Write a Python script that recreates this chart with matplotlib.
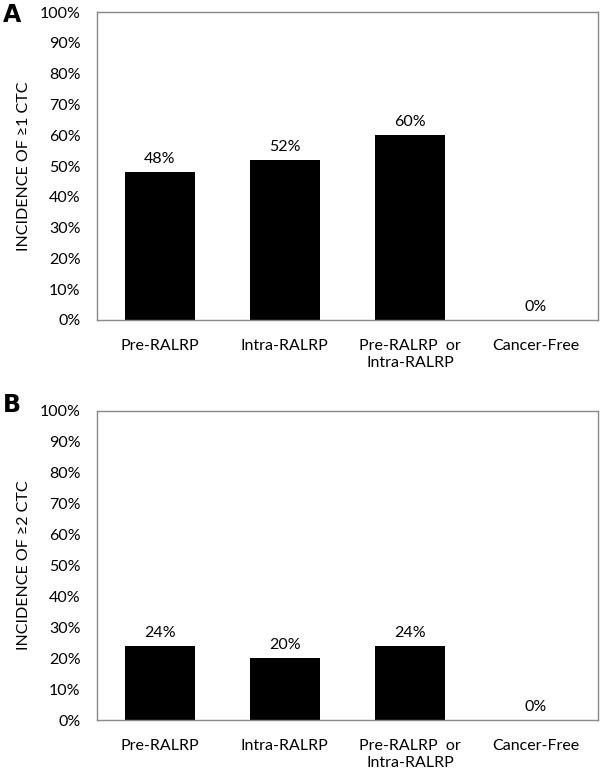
import numpy as np
import matplotlib.pyplot as plt
from matplotlib.ticker import PercentFormatter

categories = ["Pre-RALRP", "Intra-RALRP", "Pre-RALRP  or\nIntra-RALRP", "Cancer-Free"]
incidence_1ctc = [48, 52, 60, 0]
incidence_2ctc = [24, 20, 24, 0]
panel_letters = ["A", "B"]
ylabels = ["INCIDENCE OF \u22651 CTC", "INCIDENCE OF \u22652 CTC"]

plt.rcParams['font.family'] = ['Lato', 'DejaVu Sans']

fig = plt.figure(figsize=(6, 7.77), dpi=100)
W, H = 600, 777
# axes boxes in pixels: (left, top, right, bottom)
boxes = [(97, 12, 598, 320), (97, 411, 598, 720)]
letter_y = [15, 405]

x = np.arange(len(categories))
fs = 11.5
for box, vals, letter, ly, ylab in zip(boxes, [incidence_1ctc, incidence_2ctc], panel_letters, letter_y, ylabels):
    l, t, r, b = box
    ax = fig.add_axes([l / W, 1 - b / H, (r - l) / W, (b - t) / H])
    ax.bar(x, vals, width=0.56, color='black')
    for xi, v in zip(x, vals):
        ax.text(xi, v + 2, f"{v}%", ha='center', va='bottom', fontsize=fs)
    ax.set_xlim(-0.5, len(categories) - 0.5)
    ax.set_ylim(0, 100)
    ax.set_yticks(np.arange(0, 101, 10))
    ax.yaxis.set_major_formatter(PercentFormatter(decimals=0))
    ax.set_xticks(x)
    ax.set_xticklabels(categories, fontsize=fs, linespacing=1.25)
    ax.tick_params(axis='both', length=0, labelsize=fs)
    ax.tick_params(axis='y', pad=12)
    ax.tick_params(axis='x', pad=14)
    for s in ax.spines.values():
        s.set_color('#888888')
        s.set_linewidth(1)
    ax.set_ylabel(ylab, fontsize=fs, labelpad=6)
    fig.text(3 / W, 1 - ly / H, letter, fontsize=17, fontweight='bold',
             family='DejaVu Sans', va='center', ha='left')

fig.savefig("out.png", dpi=100)
